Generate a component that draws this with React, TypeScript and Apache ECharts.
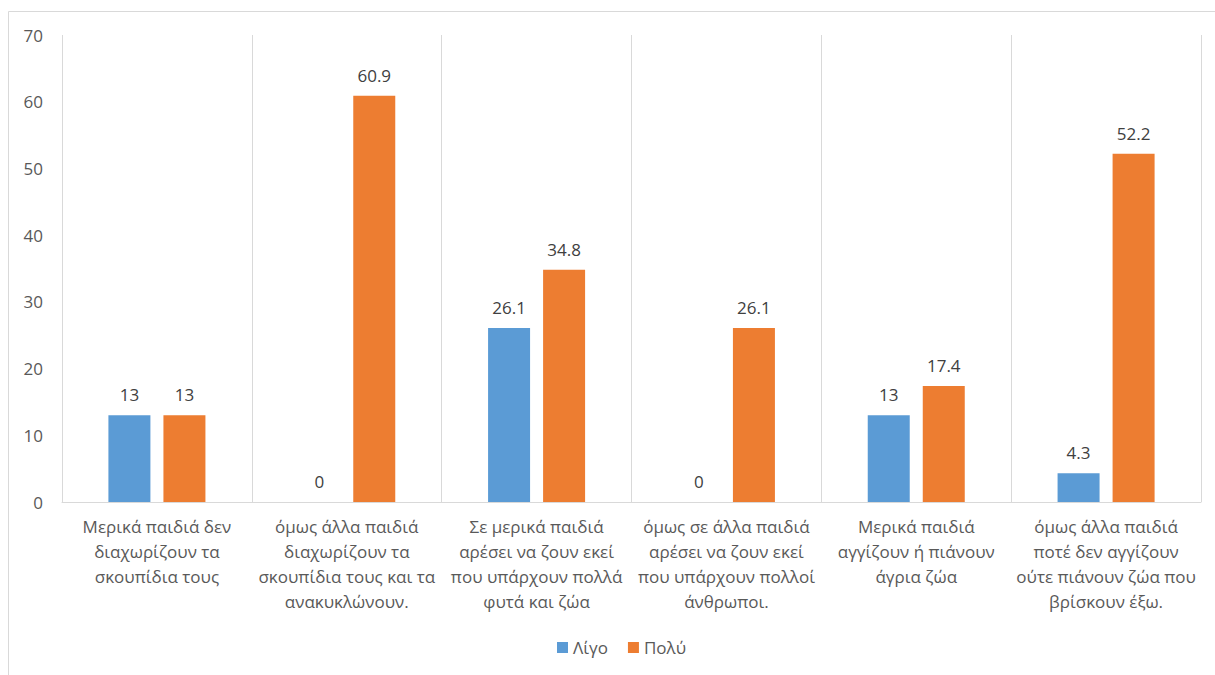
import React, { useEffect, useRef } from "react";
import * as echarts from "echarts";

const categories = [
  "Μερικά παιδιά δεν\nδιαχωρίζουν τα\nσκουπίδια τους",
  "όμως άλλα παιδιά\nδιαχωρίζουν τα\nσκουπίδια τους και τα\nανακυκλώνουν.",
  "Σε μερικά παιδιά\nαρέσει να ζουν εκεί\nπου υπάρχουν πολλά\nφυτά και ζώα",
  "όμως σε άλλα παιδιά\nαρέσει να ζουν εκεί\nπου υπάρχουν πολλοί\nάνθρωποι.",
  "Μερικά παιδιά\nαγγίζουν ή πιάνουν\nάγρια ζώα",
  "όμως άλλα παιδιά\nποτέ δεν αγγίζουν\nούτε πιάνουν ζώα που\nβρίσκουν έξω.",
];
const ligo = [13, 0, 26.1, 0, 13, 4.3];
const poly = [13, 60.9, 34.8, 26.1, 17.4, 52.2];
const seriesNames = ["Λίγο", "Πολύ"];

const FONT = "'Open Sans', 'Noto Sans', sans-serif";

export default function App() {
  const ref = useRef<HTMLDivElement>(null);
  useEffect(() => {
    if (!ref.current) return;
    const chart = echarts.init(ref.current, undefined, { renderer: "svg" });
    const labelCfg = {
      show: true,
      position: "top",
      distance: 12,
      color: "#404040",
      fontSize: 17,
      fontFamily: FONT,
    };
    chart.setOption({
      animation: false,
      backgroundColor: "#ffffff",
      textStyle: { fontFamily: FONT },
      graphic: [
        {
          type: "rect",
          shape: { x: 8.5, y: 11.5, width: 1220, height: 700 },
          style: { fill: "none", stroke: "#d9d9d9", lineWidth: 1 },
          silent: true,
        },
      ],
      grid: { left: 62, right: 14, top: 35, bottom: 173, containLabel: false },
      legend: {
        top: 634,
        left: 552,
        itemWidth: 11,
        itemHeight: 11,
        itemGap: 20,
        icon: "rect",
        textStyle: { color: "#595959", fontSize: 17, fontFamily: FONT },
        data: seriesNames,
      },
      xAxis: {
        type: "category",
        data: categories,
        axisLine: { show: true, lineStyle: { color: "#d9d9d9", width: 1 } },
        axisTick: { show: false },
        splitLine: { show: true, lineStyle: { color: "#d9d9d9", width: 1 } },
        axisLabel: {
          interval: 0,
          color: "#595959",
          fontSize: 17,
          lineHeight: 25,
          margin: 12,
          fontFamily: FONT,
        },
      },
      yAxis: {
        type: "value",
        min: 0,
        max: 70,
        interval: 10,
        axisLine: { show: false },
        axisTick: { show: false },
        splitLine: { show: false },
        axisLabel: { color: "#595959", fontSize: 17, margin: 19, fontFamily: FONT },
      },
      series: [
        {
          name: seriesNames[0],
          type: "bar",
          data: ligo,
          barWidth: 42,
          barGap: "31%",
          itemStyle: { color: "#5B9BD5" },
          label: labelCfg,
        },
        {
          name: seriesNames[1],
          type: "bar",
          data: poly,
          barWidth: 42,
          barGap: "31%",
          itemStyle: { color: "#ED7D31" },
          label: labelCfg,
        },
      ],
    });
    return () => chart.dispose();
  }, []);
  return (
    <div
      ref={ref}
      style={{ position: "fixed", left: 0, top: 0, width: 1215, height: 675 }}
    />
  );
}
